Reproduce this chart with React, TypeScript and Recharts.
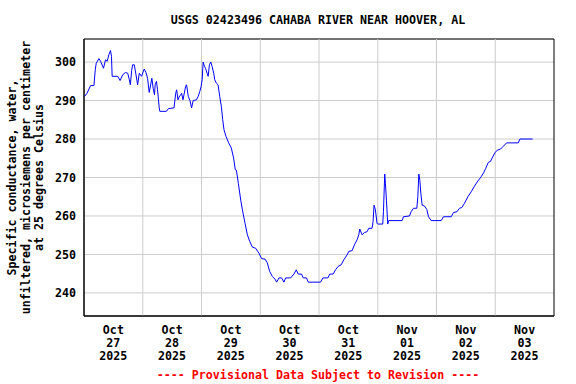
import { CartesianGrid, Line, LineChart, ReferenceArea, ReferenceLine, XAxis, YAxis } from "recharts"

const title = "USGS 02423496 CAHABA RIVER NEAR HOOVER, AL"
const footer = "---- Provisional Data Subject to Revision ----"
const yLabelLines = [
  "Specific conductance, water,",
  "unfiltered, microsiemens per centimeter",
  "at 25 degrees Celsius",
]

// x is days since Oct 27 2025 00:00
const labelDays = [0.5, 1.5, 2.5, 3.5, 4.5, 5.5, 6.5, 7.5]
const dayLabels = [
  ["Oct", "27", "2025"],
  ["Oct", "28", "2025"],
  ["Oct", "29", "2025"],
  ["Oct", "30", "2025"],
  ["Oct", "31", "2025"],
  ["Nov", "01", "2025"],
  ["Nov", "02", "2025"],
  ["Nov", "03", "2025"],
]
const gridDays = [1, 2, 3, 4, 5, 6, 7]
const yTicks = [240, 250, 260, 270, 280, 290, 300]
const xDomain = [0, 8]
const yDomain = [234, 306]

const days = [
  0.011, 0.051, 0.113, 0.169, 0.192, 0.208, 0.254, 0.282, 0.332, 0.366,
  0.394, 0.423, 0.451, 0.468, 0.479, 0.575, 0.614, 0.659, 0.704, 0.744,
  0.772, 0.789, 0.811, 0.828, 0.856, 0.885, 0.913, 0.941, 0.98, 1.025,
  1.054, 1.082, 1.11, 1.155, 1.177, 1.2, 1.211, 1.234, 1.251, 1.262,
  1.279, 1.29, 1.403, 1.437, 1.532, 1.561, 1.577, 1.6, 1.617, 1.645,
  1.662, 1.685, 1.707, 1.73, 1.746, 1.775, 1.803, 1.831, 1.859, 1.915,
  1.944, 1.972, 1.994, 2.011, 2.028, 2.051, 2.068, 2.096, 2.113, 2.135,
  2.158, 2.18, 2.208, 2.225, 2.254, 2.282, 2.31, 2.338, 2.361, 2.383,
  2.417, 2.462, 2.507, 2.546, 2.575, 2.594, 2.628, 2.668, 2.696, 2.741,
  2.781, 2.821, 2.866, 2.922, 2.979, 3.024, 3.081, 3.121, 3.16, 3.205,
  3.251, 3.279, 3.319, 3.364, 3.403, 3.432, 3.517, 3.573, 3.613, 3.647,
  3.703, 3.732, 3.788, 3.817, 4.026, 4.066, 4.151, 4.184, 4.241, 4.281,
  4.326, 4.377, 4.422, 4.479, 4.507, 4.564, 4.603, 4.649, 4.677, 4.694,
  4.733, 4.773, 4.818, 4.847, 4.903, 4.92, 4.937, 4.96, 4.988, 5.0,
  5.085, 5.097, 5.119, 5.131, 5.148, 5.17, 5.188, 5.415, 5.438, 5.54,
  5.568, 5.608, 5.665, 5.682, 5.699, 5.716, 5.733, 5.756, 5.795, 5.835,
  5.864, 5.909, 6.08, 6.119, 6.25, 6.29, 6.347, 6.392, 6.432, 6.477,
  6.534, 6.591, 6.648, 6.705, 6.761, 6.801, 6.835, 6.881, 6.92, 6.955,
  6.994, 7.034, 7.091, 7.136, 7.193, 7.392, 7.42, 7.636,
]

const conductance = [
  291.1, 291.9, 293.9, 293.9, 298.0, 299.7, 300.9, 300.2, 298.4, 300.6,
  300.2, 301.9, 303.0, 301.5, 296.3, 296.3, 295.2, 296.7, 297.3, 297.1,
  295.4, 294.1, 297.8, 299.3, 299.3, 296.7, 294.1, 297.1, 296.3, 298.2,
  297.3, 295.8, 292.1, 295.8, 293.2, 291.5, 294.1, 295.0, 292.8, 291.1,
  288.3, 287.2, 287.2, 287.9, 288.1, 291.9, 292.8, 290.2, 290.9, 291.5,
  291.9, 290.2, 291.9, 293.7, 294.1, 291.1, 290.0, 288.1, 290.0, 290.2,
  291.1, 292.4, 293.7, 295.4, 300.0, 298.9, 298.4, 297.1, 296.3, 299.3,
  300.0, 298.9, 297.1, 295.4, 294.5, 294.1, 291.1, 288.5, 285.0, 282.4,
  280.7, 279.0, 277.7, 275.1, 272.0, 271.9, 268.4, 264.1, 261.6, 258.1,
  255.1, 253.4, 251.9, 251.6, 250.3, 248.9, 248.8, 247.8, 245.6, 244.3,
  243.6, 242.8, 243.9, 243.9, 242.8, 243.9, 243.9, 244.9, 246.0, 244.9,
  244.9, 243.9, 243.9, 242.8, 242.8, 243.9, 243.9, 244.9, 244.9, 246.0,
  246.9, 247.3, 248.6, 249.9, 250.8, 251.0, 252.5, 253.8, 255.1, 256.6,
  255.1, 255.7, 255.9, 256.8, 256.8, 258.5, 262.8, 261.6, 258.1, 257.9,
  257.9, 261.1, 270.9, 268.4, 264.1, 257.9, 258.8, 258.8, 259.8, 260.0,
  261.1, 262.0, 262.0, 265.0, 270.9, 269.3, 265.9, 262.8, 262.6, 261.7,
  259.8, 258.8, 258.8, 259.8, 259.8, 260.9, 261.1, 262.0, 262.2, 263.3,
  265.0, 266.3, 267.8, 269.1, 270.2, 271.2, 272.3, 273.9, 274.2, 275.3,
  276.4, 277.1, 277.4, 278.1, 279.0, 279.0, 280.0, 280.0,
]

const data = days.map((day, i) => ({ day, value: conductance[i] }))

const FONT = "'DejaVu Sans Mono', monospace"
const FS = 11.65

function DayTick(props: any) {
  const { x, y, payload } = props
  const lines = dayLabels[labelDays.indexOf(payload.value)] || []
  return (
    <text x={x} y={y} textAnchor="middle" fontFamily={FONT} fontWeight="bold" fontSize={FS} fill="#000">
      {lines.map((s, i) => (
        <tspan key={i} x={x} dy={i === 0 ? 18 : 13}>
          {s}
        </tspan>
      ))}
    </text>
  )
}

export default function App() {
  return (
    <div style={{ position: "absolute", left: 0, top: 0, width: 576, height: 384, background: "#fff" }}>
      <LineChart width={576} height={384} data={data} margin={{ top: 39, right: 22, bottom: 0, left: 0 }}>
        <CartesianGrid vertical={false} stroke="#cccccc" strokeWidth={1} />
        {gridDays.map((d) => (
          <ReferenceLine key={d} x={d} stroke="#cccccc" strokeWidth={1} />
        ))}
        <XAxis
          dataKey="day"
          type="number"
          domain={xDomain}
          ticks={labelDays}
          interval={0}
          height={68}
          tickLine={false}
          tickSize={0}
          tickMargin={0}
          axisLine={{ stroke: "#000" }}
          tick={<DayTick />}
        />
        <YAxis
          type="number"
          domain={yDomain}
          ticks={yTicks}
          interval={0}
          width={84}
          tickLine={false}
          tickSize={6}
          tickMargin={2}
          axisLine={{ stroke: "#000" }}
          tick={{ fontFamily: FONT, fontWeight: "bold", fontSize: FS, fill: "#000" }}
        />
        <Line
          dataKey="value"
          type="linear"
          stroke="#0000ff"
          strokeWidth={1}
          dot={false}
          isAnimationActive={false}
        />
        <ReferenceArea
          x1={xDomain[0]}
          x2={xDomain[1]}
          y1={yDomain[0]}
          y2={yDomain[1]}
          fill="none"
          fillOpacity={0}
          stroke="#000"
          strokeWidth={1}
          strokeOpacity={1}
        />
      </LineChart>
      <svg width={576} height={384} style={{ position: "absolute", left: 0, top: 0, pointerEvents: "none" }}>
        <text x={318} y={24} textAnchor="middle" fontFamily={FONT} fontWeight="bold" fontSize={FS} fill="#000">
          {title}
        </text>
        <text transform="translate(0, 177.5) rotate(-90)" textAnchor="middle" fontFamily={FONT} fontWeight="bold" fontSize={FS} fill="#000">
          {yLabelLines.map((s, i) => (
            <tspan key={i} x={0} y={16 + i * 13.5}>
              {s}
            </tspan>
          ))}
        </text>
        <text x={318} y={379} textAnchor="middle" fontFamily={FONT} fontWeight="bold" fontSize={FS} fill="#ff0000">
          {footer}
        </text>
      </svg>
    </div>
  )
}
